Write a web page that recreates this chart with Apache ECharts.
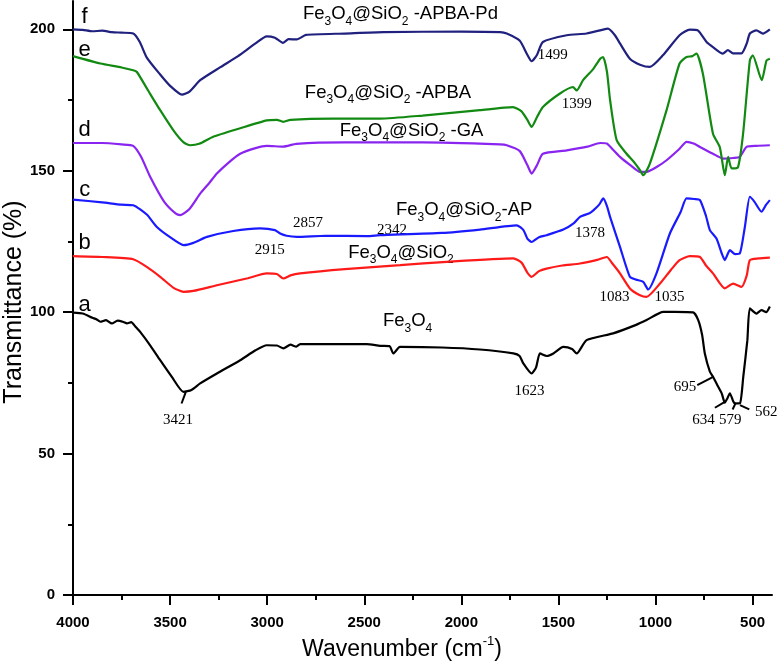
<!DOCTYPE html>
<html><head><meta charset="utf-8">
<script src="https://cdn.jsdelivr.net/npm/echarts@6/dist/echarts.min.js"></script>
<style>html,body{margin:0;padding:0;background:#fff}#c{width:779px;height:669px}</style>
</head><body><div id="c"></div>
<script>
// ---------- data (wavenumber cm-1, transmittance %) ----------
const specA = [[4000,99.8],[3950,99.5],[3900,98],[3880,97.5],[3859,96.6],[3830,97.2],[3800,96],[3770,97],[3740,96.5],[3722,96],[3700,96.5],[3680,95],[3654,93],[3600,88],[3551,83],[3490,77],[3431,71.8],[3390,72.5],[3345,74.8],[3259,78.3],[3139,83],[3060,86.5],[3002,88.3],[2950,88.2],[2916,87.2],[2880,88.5],[2850,87.8],[2830,88.7],[2487,88.7],[2418,88.1],[2370,88],[2350,85.4],[2316,87.7],[2100,87.5],[1904,86.8],[1732,85.4],[1700,84.5],[1681,81.9],[1638,78.3],[1615,80.5],[1595,85.4],[1560,84.5],[1526,85.4],[1475,87.7],[1430,87],[1406,85.4],[1355,90.1],[1218,92.5],[1100,95.5],[1046,97.2],[960,100.1],[900,100.1],[806,99.9],[780,97.2],[760,92],[746,85.4],[720,79],[703,77.1],[680,74],[659,71.3],[643,68],[630,69.5],[617,71.3],[600,68.5],[591,67.7],[565,67.8],[548,77.1],[527,90],[514,101.3],[480,99.5],[454,100.7],[430,100],[411,102]];
const specB = [[4000,119.8],[3850,119.5],[3690,118.7],[3620,116],[3551,112.5],[3480,108.5],[3431,107.2],[3380,107.5],[3259,109.5],[3100,112],[3002,113.7],[2950,113.5],[2917,111.9],[2880,113],[2830,113.7],[2600,115.2],[2315,116.6],[2075,117.8],[1732,119],[1690,117.5],[1660,114],[1638,112.5],[1600,114.5],[1561,115.4],[1480,116.5],[1389,117.2],[1300,118.5],[1251,119.5],[1220,117],[1183,113.7],[1132,108.4],[1080,106],[1046,105.4],[977,110.1],[920,115],[876,118.4],[823,119.8],[771,119.5],[740,116.5],[704,113.7],[643,108.4],[600,110.1],[557,108.9],[530,113],[514,118.4],[470,119],[411,119.3]];
const specC = [[4000,139.8],[3850,138.8],[3750,138],[3690,137.8],[3620,134.5],[3568,130.1],[3500,126.5],[3431,123.7],[3380,124.5],[3310,126.6],[3175,128.7],[3036,129.6],[2960,129],[2933,127.8],[2900,127],[2847,126.6],[2700,127],[2487,126.9],[2418,127.2],[2100,128],[1904,129.2],[1715,130.7],[1680,129],[1660,126],[1638,124.8],[1600,126.5],[1561,127.2],[1475,129.2],[1420,131.5],[1389,133.7],[1340,135],[1320,136],[1290,138],[1269,140.2],[1250,137.5],[1234,133.7],[1183,123.1],[1132,112.5],[1100,111.5],[1063,110.7],[1038,108],[995,113.7],[926,127.8],[870,135.5],[840,140.2],[800,140],[771,139.6],[740,134],[720,129],[686,126],[660,121],[643,118.4],[617,121.9],[590,120.5],[566,120.7],[540,130],[514,140.8],[490,139],[454,135.5],[430,138],[411,139.6]];
const specD = [[4000,159.8],[3850,159.8],[3750,159.3],[3690,158.8],[3650,155],[3602,147.8],[3530,139],[3470,134.8],[3448,134.3],[3400,136.5],[3345,141.9],[3300,145.5],[3259,149],[3200,152.8],[3139,156],[3060,158],[3002,158.8],[2917,158.5],[2850,159.5],[2600,160],[2200,160],[1800,159.3],[1766,159],[1700,157],[1660,152],[1638,149],[1610,152],[1580,156],[1457,157.2],[1350,158.5],[1285,159.8],[1251,159.6],[1220,157.5],[1183,154.9],[1130,152],[1080,149.6],[1046,149.6],[990,151.5],[943,153.7],[880,157.5],[840,160.2],[800,159.5],[771,158.4],[704,156],[651,154.3],[600,154.5],[566,154.9],[531,158.4],[480,158.8],[411,159]];
const specE = [[4000,190.5],[3859,187.9],[3750,186.5],[3690,185.5],[3671,184.9],[3610,178],[3551,171.4],[3480,164],[3430,160],[3396,159],[3350,159.5],[3278,162],[3139,165],[3002,167.8],[2950,168],[2917,167.3],[2880,168],[2660,168.4],[2418,168.4],[2200,169.5],[1904,171.4],[1734,172.5],[1690,171],[1660,168],[1638,165.5],[1610,169],[1580,172.5],[1492,177.3],[1425,179.6],[1406,178.4],[1373,182],[1320,186],[1285,189.6],[1270,190.2],[1250,185],[1234,175],[1200,160.8],[1149,156],[1110,153],[1080,150.2],[1063,148.4],[1029,152.5],[943,171.4],[876,187.9],[840,190.2],[810,190.5],[789,191.4],[756,184.3],[704,163.1],[669,158.4],[643,148.4],[626,154.9],[608,150.8],[575,151.3],[549,163],[514,189],[499,190.8],[453,182],[428,189],[411,189.6]];
const specF = [[4000,200],[3950,199.8],[3900,199.3],[3850,199.5],[3800,199],[3750,198.8],[3690,198.5],[3656,195.5],[3620,190],[3551,184],[3500,180],[3439,176.9],[3400,178],[3345,182],[3241,186.6],[3150,190.5],[3060,195],[3002,197.5],[2960,197],[2919,195.2],[2890,196.5],[2847,196.4],[2800,198],[2600,198.5],[2400,199],[2000,199.2],[1800,199],[1766,198.5],[1700,196],[1660,191],[1638,188.7],[1610,191],[1580,195.5],[1457,197.9],[1355,198.5],[1270,199.9],[1245,200.2],[1210,198],[1183,195],[1132,189.6],[1080,187.5],[1029,186.7],[962,190.8],[876,197.9],[823,199.9],[782,199.6],[737,195.5],[704,193.7],[653,191.4],[627,192.6],[601,191.5],[557,191.5],[530,195],[514,198.5],[480,199.6],[447,198.5],[411,200]];

const xMajorTicks = [4000,3500,3000,2500,2000,1500,1000,500];
const xMinorTicks = [3750,3250,2750,2250,1750,1250,750];
const yMajorTicks = [0,50,100,150,200];
const yMinorTicks = [25,75,125,175];

// curve letters [text, wavenumber, transmittance]
const curveLetters = [['f',3940,204.2],['e',3940,192.6],['d',3940,164.3],['c',3940,143.1],['b',3940,124.4],['a',3940,102.5]];
// sample names (left edge, vertical centre) ; _n marks a subscript
const sampleNames = [['Fe_3O_4@SiO_2 -APBA-Pd',2816,205.3],['Fe_3O_4@SiO_2 -APBA',2806,177.6],['Fe_3O_4@SiO_2 -GA',2626,164],['Fe_3O_4@SiO_2-AP',2337,136],['Fe_3O_4@SiO_2',2583,121],['Fe_3O_4',2404,96.8]];
// band labels (centre)
const bandLabels = [['1499',1529,190.8],['1399',1405,173.5],['2915',2987,121.9],['2857',2790,131.4],['2342',2357,129],['1378',1337,127.8],['1083',1211,105.4],['1035',928,105.4],['3421',3459,61.8],['1623',1649,72.2],['695',848,73.6],['634',753,61.8],['579',615,61.8],['562',429,64.8]];
// leader lines
const leaders = [[[3441,67.7],[3419,71.8]],[[785,74.2],[703,77.1]],[[694,66.2],[643,68.3]],[[603,65.6],[586,68]],[[565,67.1],[517,65.6]]];

const seriesDefs = [
  ['a', specA, '#000000'],
  ['b', specB, '#ff1a1a'],
  ['c', specC, '#1a1aff'],
  ['d', specD, '#8a24f0'],
  ['e', specE, '#128a12'],
  ['f', specF, '#20207e']
];

const GRID = {left: 73, right: 7, top: 1, bottom: 74};
const W = 779, H = 669;
const gridW = W - GRID.left - GRID.right, gridH = H - GRID.top - GRID.bottom;

const chart = echarts.init(document.getElementById('c'));
const AX = '#000';
const tickFont = {fontFamily:'"Liberation Sans", Arial, sans-serif', fontWeight:'bold', fontSize:15, color:'#000', formatter: v => String(v)};

const series = seriesDefs.map(([n, d, col]) => ({
  name: n, type: 'line', data: d, showSymbol: false, symbol: 'none', smooth: 0.2,
  lineStyle: {color: col, width: 2.2}, itemStyle: {color: col}, animation: false, silent: true, z: 3
}));
series[0].markLine = {
  silent: true, symbol: ['none','none'], animation: false,
  lineStyle: {color: '#000', width: 2, type: 'solid'}, label: {show: false},
  data: leaders.map(([p, q]) => [{coord: p}, {coord: q}])
};

chart.setOption({
  animation: false,
  grid: GRID,
  xAxis: [
    {type:'value', min:400, max:4000, inverse:true, position:'bottom',
     axisLine:{lineStyle:{color:AX,width:2}},
     axisTick:{customValues:xMajorTicks, length:10, lineStyle:{color:AX,width:2}},
     axisLabel:Object.assign({customValues:xMajorTicks, margin:20}, tickFont),
     splitLine:{show:false}},
    // minor ticks: top-position axis moved down onto the bottom edge, ticks pointing down
    {type:'value', min:400, max:4000, inverse:true, position:'top', offset:-gridH,
     axisLine:{show:false},
     axisTick:{show:true, inside:true, customValues:xMinorTicks, length:5, lineStyle:{color:AX,width:2}},
     axisLabel:{show:false}, splitLine:{show:false}}
  ],
  yAxis: [
    {type:'value', min:0, max:210, position:'left',
     axisLine:{show:true, lineStyle:{color:AX,width:2}},
     axisTick:{show:true, customValues:yMajorTicks, length:10, lineStyle:{color:AX,width:2}},
     axisLabel:Object.assign({customValues:yMajorTicks, margin:18}, tickFont),
     splitLine:{show:false}},
    {type:'value', min:0, max:210, position:'right', offset:-gridW,
     axisLine:{show:false},
     axisTick:{show:true, inside:true, customValues:yMinorTicks, length:5, lineStyle:{color:AX,width:2}},
     axisLabel:{show:false}, splitLine:{show:false}}
  ],
  series: series
});

function toPx(w, v){ return chart.convertToPixel({xAxisIndex:0, yAxisIndex:0}, [w, v]); }
function richName(s){
  return s.split(/(_\d)/).filter(t => t).map(t => t[0]==='_' ? '{s|'+t.slice(1)+'}' : '{n|'+t+'}').join('');
}
const sans = '"Liberation Sans", Arial, sans-serif';
const serif = '"Liberation Serif", "Times New Roman", serif';
const graphics = [];
curveLetters.forEach(([t,w,v]) => {
  const p = toPx(w,v);
  graphics.push({type:'text', x:p[0], y:p[1], silent:true,
    style:{text:t, font:'22px '+sans, fill:'#000', align:'center', verticalAlign:'middle'}});
});
sampleNames.forEach(([t,w,v]) => {
  const p = toPx(w,v);
  graphics.push({type:'text', x:p[0], y:p[1], silent:true,
    style:{text:richName(t), align:'left', verticalAlign:'middle', fill:'#000',
      rich:{n:{fontFamily:sans, fontSize:18.5, lineHeight:26, verticalAlign:'middle', fill:'#000'},
            s:{fontFamily:sans, fontSize:12, lineHeight:12, verticalAlign:'bottom', fill:'#000'}}}});
});
bandLabels.forEach(([t,w,v]) => {
  const p = toPx(w,v);
  graphics.push({type:'text', x:p[0], y:p[1], silent:true,
    style:{text:t, font:'15px '+serif, fill:'#000', align:'center', verticalAlign:'middle'}});
});
graphics.push({type:'text', x:402, y:650, silent:true,
  style:{text:'{n|Wavenumber (cm}{p|-1}{n|)}', align:'center', verticalAlign:'middle',
    rich:{n:{fontFamily:sans, fontSize:23, lineHeight:30, verticalAlign:'middle', fill:'#000'},
          p:{fontFamily:sans, fontSize:13, lineHeight:13, verticalAlign:'top', fill:'#000'}}}});
graphics.push({type:'text', x:14, y:302, rotation:Math.PI/2, silent:true,
  style:{text:'Transmittance (%)', font:'25px '+sans, fill:'#000', align:'center', verticalAlign:'middle'}});
chart.setOption({graphic: graphics});
</script></body></html>
